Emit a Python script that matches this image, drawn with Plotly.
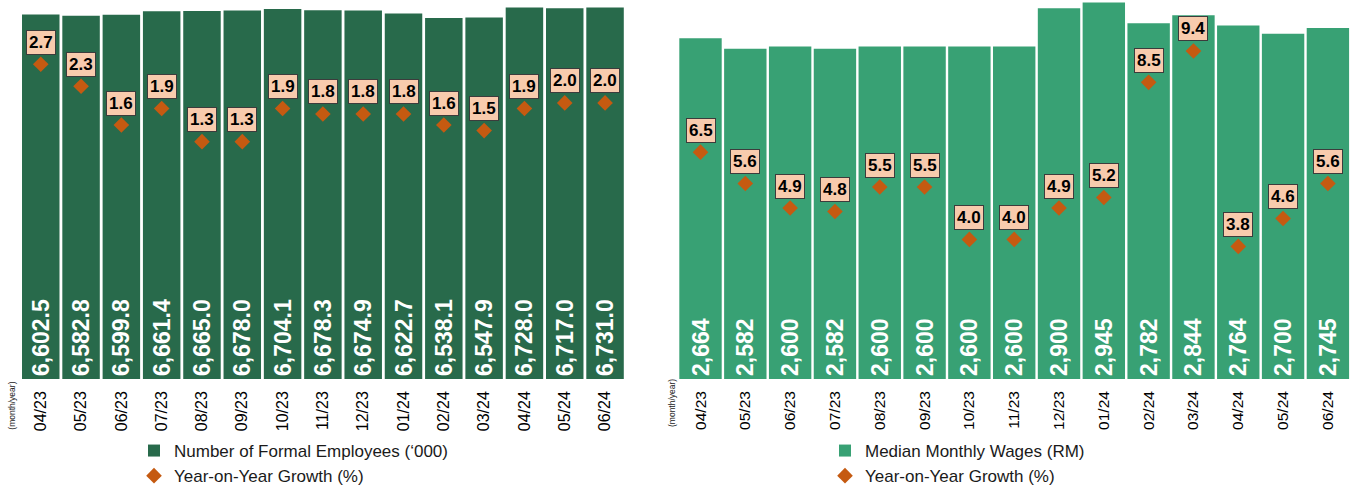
import plotly.graph_objects as go

# Monthly categories shared by both panels
months = ["04/23", "05/23", "06/23", "07/23", "08/23", "09/23", "10/23", "11/23",
          "12/23", "01/24", "02/24", "03/24", "04/24", "05/24", "06/24"]

# Formal employees ('000) and their year-on-year growth (%)
employees = [6602.5, 6582.8, 6599.8, 6661.4, 6665.0, 6678.0, 6704.1, 6678.3,
             6674.9, 6622.7, 6538.1, 6547.9, 6728.0, 6717.0, 6731.0]
employees_yoy = [2.7, 2.3, 1.6, 1.9, 1.3, 1.3, 1.9, 1.8, 1.8, 1.8, 1.6, 1.5, 1.9, 2.0, 2.0]

# Median monthly wages (RM) and their year-on-year growth (%)
wages = [2664, 2582, 2600, 2582, 2600, 2600, 2600, 2600,
         2900, 2945, 2782, 2844, 2764, 2700, 2745]
wages_yoy = [6.5, 5.6, 4.9, 4.8, 5.5, 5.5, 4.0, 4.0, 4.9, 5.2, 8.5, 9.4, 3.8, 4.6, 5.6]

DARK_GREEN = "#286a4b"
LIGHT_GREEN = "#38a174"
ORANGE = "#c55a11"
PEACH = "#f8cbad"
FONT = "Liberation Sans, Arial, sans-serif"

W, H = 1355, 487
BOTTOM = 108                 # space below the plotting area
PLOT_H = H - BOTTOM


def px_x(x):
    return x / W


def px_y(y):
    return (PLOT_H - y) / PLOT_H


fig = go.Figure()

# Left panel: employees
fig.add_trace(go.Bar(
    x=months, y=employees, width=0.93,
    marker=dict(color=DARK_GREEN, line=dict(width=0)),
    texttemplate="%{y:,.1f}", textposition="inside", insidetextanchor="start",
    textangle=-90, textfont=dict(family=FONT, size=23, color="white", weight="bold"),
    name="Number of Formal Employees (\u2018000)",
    xaxis="x", yaxis="y", legend="legend", cliponaxis=False,
))
fig.add_trace(go.Scatter(
    x=months, y=employees_yoy, mode="markers",
    marker=dict(symbol="diamond", size=12, color=ORANGE),
    name="Year-on-Year Growth (%)",
    xaxis="x", yaxis="y2", legend="legend", cliponaxis=False,
))

# Right panel: wages
fig.add_trace(go.Bar(
    x=months, y=wages, width=0.946,
    marker=dict(color=LIGHT_GREEN, line=dict(width=0)),
    texttemplate="%{y:,}", textposition="inside", insidetextanchor="start",
    textangle=-90, textfont=dict(family=FONT, size=23, color="white", weight="bold"),
    name="Median Monthly Wages (RM)",
    xaxis="x2", yaxis="y3", legend="legend2", cliponaxis=False,
))
fig.add_trace(go.Scatter(
    x=months, y=wages_yoy, mode="markers",
    marker=dict(symbol="diamond", size=12, color=ORANGE),
    name="Year-on-Year Growth (%)",
    xaxis="x2", yaxis="y4", legend="legend2", cliponaxis=False,
))

annotations = []


def growth_labels(values, xref, yref):
    for m, v in zip(months, values):
        annotations.append(dict(
            x=m, y=v, xref=xref, yref=yref, text=f"{v:.1f}", showarrow=False,
            yshift=22, font=dict(family=FONT, size=17, color="black", weight="bold"),
            bgcolor=PEACH, bordercolor="#3c3c3c", borderwidth=1, borderpad=2,
        ))


growth_labels(employees_yoy, "x", "y2")
growth_labels(wages_yoy, "x2", "y4")

# Small axis captions
for xp, yp in [(11.7, 406), (672, 403)]:
    annotations.append(dict(
        x=px_x(xp), y=px_y(yp), xref="paper", yref="paper", text="(month/year)",
        showarrow=False, textangle=-90, font=dict(family=FONT, size=8.5, color="#222"),
        xanchor="center", yanchor="middle",
    ))

n = len(months)
axis_common = dict(showgrid=False, zeroline=False, showline=False, ticks="",
                   type="category", tickangle=-90, fixedrange=True, automargin=False,
                   range=[-0.5, n - 0.5], ticklabelstandoff=8)

legend_common = dict(xanchor="left", yanchor="top",
                     font=dict(family=FONT, size=17, color="#1a1a1a"),
                     bgcolor="rgba(0,0,0,0)", tracegroupgap=0, traceorder="normal")

fig.update_layout(
    template="none",
    width=W, height=H, autosize=False,
    margin=dict(l=0, r=0, t=0, b=BOTTOM, autoexpand=False),
    paper_bgcolor="white", plot_bgcolor="white",
    font=dict(family=FONT, color="black"),
    xaxis=dict(domain=[20.6 / W, 625.2 / W], anchor="y",
               tickfont=dict(family=FONT, size=16, color="black"), **axis_common),
    xaxis2=dict(domain=[678.1 / W, 1350.3 / W], anchor="y3",
                tickfont=dict(family=FONT, size=15.5, color="black"), **axis_common),
    yaxis=dict(range=[0, 6866], visible=False, anchor="x", fixedrange=True),
    yaxis2=dict(range=[-2.99, 3.86], visible=False, overlaying="y", anchor="x", fixedrange=True),
    yaxis3=dict(range=[0, 2964], visible=False, anchor="x2", fixedrange=True),
    yaxis4=dict(range=[0, 10.86], visible=False, overlaying="y3", anchor="x2", fixedrange=True),
    showlegend=True,
    legend=dict(x=px_x(134), y=px_y(433), **legend_common),
    legend2=dict(x=px_x(825), y=px_y(433), **legend_common),
    annotations=annotations,
)

fig.write_html("out.html")
